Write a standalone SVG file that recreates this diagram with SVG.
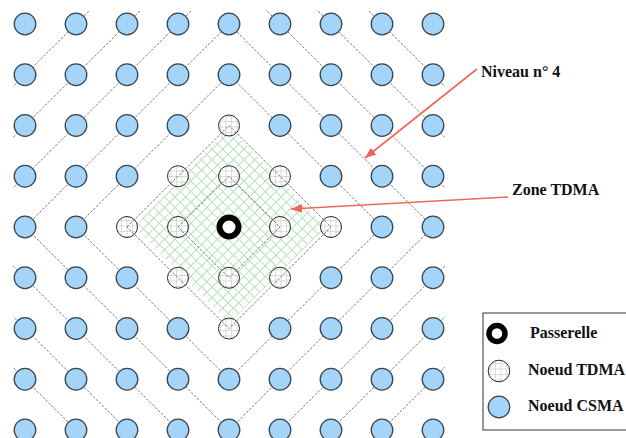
<svg xmlns="http://www.w3.org/2000/svg" width="626" height="438" viewBox="0 0 626 438">
<style>
.csma{fill:#a4d5f8;stroke:#3a4650;stroke-width:1.3}
.tdma{fill:url(#grid);stroke:#2a2a2a;stroke-width:1}
.gw{fill:#fff;stroke:#000;stroke-width:6}
.gwl{fill:none;stroke:#000;stroke-width:5.5}
.lvl{fill:none;stroke:#555;stroke-width:0.8;stroke-dasharray:2.5 1.6}
.arrow{stroke:#f0665a;stroke-width:1.6;fill:none}
text{font-family:"Liberation Serif","Times New Roman",serif;font-weight:bold;font-size:16px;fill:#111}
</style>
<defs>
<pattern id="grid" width="5.5" height="5.5" patternUnits="userSpaceOnUse">
<rect width="5.5" height="5.5" fill="#fff"/>
<path d="M0 0.5H5.5M0.5 0V5.5" stroke="#d2d2d2" stroke-width="0.8"/>
</pattern>
<pattern id="hatch" width="7.5" height="7.5" patternUnits="userSpaceOnUse" patternTransform="rotate(45)">
<path d="M0 0.5H7.5M0.5 0V7.5" stroke="#b4e0bb" stroke-width="1"/>
</pattern>
<marker id="ah" markerUnits="userSpaceOnUse" markerWidth="12" markerHeight="10" refX="11" refY="4.5" orient="auto">
<path d="M0 0L11 4.5L0 9Z" fill="#f0665a"/>
</marker>
<clipPath id="gridclip"><rect x="13" y="10" width="432" height="440"/></clipPath>
</defs>
<rect width="626" height="438" fill="#fff"/>
<g id="zone-tdma">
<polygon points="134,227 229,128 326,227 229,323" fill="url(#hatch)"/>
</g>
<g id="tdma-nodes">
<g id="n4-2"><circle class="tdma" cx="229" cy="125.5" r="10.5"/></g>
<g id="n3-3"><circle class="tdma" cx="178" cy="176.25" r="10.5"/></g>
<g id="n4-3"><circle class="tdma" cx="229" cy="176.25" r="10.5"/></g>
<g id="n5-3"><circle class="tdma" cx="280" cy="176.25" r="10.5"/></g>
<g id="n2-4"><circle class="tdma" cx="127" cy="227" r="10.5"/></g>
<g id="n3-4"><circle class="tdma" cx="178" cy="227" r="10.5"/></g>
<g id="n5-4"><circle class="tdma" cx="280" cy="227" r="10.5"/></g>
<g id="n6-4"><circle class="tdma" cx="331" cy="227" r="10.5"/></g>
<g id="n3-5"><circle class="tdma" cx="178" cy="277.75" r="10.5"/></g>
<g id="n4-5"><circle class="tdma" cx="229" cy="277.75" r="10.5"/></g>
<g id="n5-5"><circle class="tdma" cx="280" cy="277.75" r="10.5"/></g>
<g id="n4-6"><circle class="tdma" cx="229" cy="328.5" r="10.5"/></g>
</g>
<g id="connectors" clip-path="url(#gridclip)">
<polygon class="lvl" points="178,227 229,176.25 280,227 229,277.75"/>
<polygon class="lvl" points="127,227 229,125.5 331,227 229,328.5"/>
<polygon class="lvl" points="76,227 229,74.75 382,227 229,379.25"/>
<polygon class="lvl" points="25,227 229,24 433,227 229,430"/>
<polygon class="lvl" points="-26,227 229,-26.75 484,227 229,480.75"/>
<polygon class="lvl" points="-77,227 229,-77.5 535,227 229,531.5"/>
<polygon class="lvl" points="-128,227 229,-128.25 586,227 229,582.25"/>
</g>
<g id="csma-nodes">
<g id="n0-0"><circle class="csma" cx="25" cy="24" r="10.8"/></g>
<g id="n1-0"><circle class="csma" cx="76" cy="24" r="10.8"/></g>
<g id="n2-0"><circle class="csma" cx="127" cy="24" r="10.8"/></g>
<g id="n3-0"><circle class="csma" cx="178" cy="24" r="10.8"/></g>
<g id="n4-0"><circle class="csma" cx="229" cy="24" r="10.8"/></g>
<g id="n5-0"><circle class="csma" cx="280" cy="24" r="10.8"/></g>
<g id="n6-0"><circle class="csma" cx="331" cy="24" r="10.8"/></g>
<g id="n7-0"><circle class="csma" cx="382" cy="24" r="10.8"/></g>
<g id="n8-0"><circle class="csma" cx="433" cy="24" r="10.8"/></g>
<g id="n0-1"><circle class="csma" cx="25" cy="74.75" r="10.8"/></g>
<g id="n1-1"><circle class="csma" cx="76" cy="74.75" r="10.8"/></g>
<g id="n2-1"><circle class="csma" cx="127" cy="74.75" r="10.8"/></g>
<g id="n3-1"><circle class="csma" cx="178" cy="74.75" r="10.8"/></g>
<g id="n4-1"><circle class="csma" cx="229" cy="74.75" r="10.8"/></g>
<g id="n5-1"><circle class="csma" cx="280" cy="74.75" r="10.8"/></g>
<g id="n6-1"><circle class="csma" cx="331" cy="74.75" r="10.8"/></g>
<g id="n7-1"><circle class="csma" cx="382" cy="74.75" r="10.8"/></g>
<g id="n8-1"><circle class="csma" cx="433" cy="74.75" r="10.8"/></g>
<g id="n0-2"><circle class="csma" cx="25" cy="125.5" r="10.8"/></g>
<g id="n1-2"><circle class="csma" cx="76" cy="125.5" r="10.8"/></g>
<g id="n2-2"><circle class="csma" cx="127" cy="125.5" r="10.8"/></g>
<g id="n3-2"><circle class="csma" cx="178" cy="125.5" r="10.8"/></g>
<g id="n5-2"><circle class="csma" cx="280" cy="125.5" r="10.8"/></g>
<g id="n6-2"><circle class="csma" cx="331" cy="125.5" r="10.8"/></g>
<g id="n7-2"><circle class="csma" cx="382" cy="125.5" r="10.8"/></g>
<g id="n8-2"><circle class="csma" cx="433" cy="125.5" r="10.8"/></g>
<g id="n0-3"><circle class="csma" cx="25" cy="176.25" r="10.8"/></g>
<g id="n1-3"><circle class="csma" cx="76" cy="176.25" r="10.8"/></g>
<g id="n2-3"><circle class="csma" cx="127" cy="176.25" r="10.8"/></g>
<g id="n6-3"><circle class="csma" cx="331" cy="176.25" r="10.8"/></g>
<g id="n7-3"><circle class="csma" cx="382" cy="176.25" r="10.8"/></g>
<g id="n8-3"><circle class="csma" cx="433" cy="176.25" r="10.8"/></g>
<g id="n0-4"><circle class="csma" cx="25" cy="227" r="10.8"/></g>
<g id="n1-4"><circle class="csma" cx="76" cy="227" r="10.8"/></g>
<g id="n7-4"><circle class="csma" cx="382" cy="227" r="10.8"/></g>
<g id="n8-4"><circle class="csma" cx="433" cy="227" r="10.8"/></g>
<g id="n0-5"><circle class="csma" cx="25" cy="277.75" r="10.8"/></g>
<g id="n1-5"><circle class="csma" cx="76" cy="277.75" r="10.8"/></g>
<g id="n2-5"><circle class="csma" cx="127" cy="277.75" r="10.8"/></g>
<g id="n6-5"><circle class="csma" cx="331" cy="277.75" r="10.8"/></g>
<g id="n7-5"><circle class="csma" cx="382" cy="277.75" r="10.8"/></g>
<g id="n8-5"><circle class="csma" cx="433" cy="277.75" r="10.8"/></g>
<g id="n0-6"><circle class="csma" cx="25" cy="328.5" r="10.8"/></g>
<g id="n1-6"><circle class="csma" cx="76" cy="328.5" r="10.8"/></g>
<g id="n2-6"><circle class="csma" cx="127" cy="328.5" r="10.8"/></g>
<g id="n3-6"><circle class="csma" cx="178" cy="328.5" r="10.8"/></g>
<g id="n5-6"><circle class="csma" cx="280" cy="328.5" r="10.8"/></g>
<g id="n6-6"><circle class="csma" cx="331" cy="328.5" r="10.8"/></g>
<g id="n7-6"><circle class="csma" cx="382" cy="328.5" r="10.8"/></g>
<g id="n8-6"><circle class="csma" cx="433" cy="328.5" r="10.8"/></g>
<g id="n0-7"><circle class="csma" cx="25" cy="379.25" r="10.8"/></g>
<g id="n1-7"><circle class="csma" cx="76" cy="379.25" r="10.8"/></g>
<g id="n2-7"><circle class="csma" cx="127" cy="379.25" r="10.8"/></g>
<g id="n3-7"><circle class="csma" cx="178" cy="379.25" r="10.8"/></g>
<g id="n4-7"><circle class="csma" cx="229" cy="379.25" r="10.8"/></g>
<g id="n5-7"><circle class="csma" cx="280" cy="379.25" r="10.8"/></g>
<g id="n6-7"><circle class="csma" cx="331" cy="379.25" r="10.8"/></g>
<g id="n7-7"><circle class="csma" cx="382" cy="379.25" r="10.8"/></g>
<g id="n8-7"><circle class="csma" cx="433" cy="379.25" r="10.8"/></g>
<g id="n0-8"><circle class="csma" cx="25" cy="430" r="10.8"/></g>
<g id="n1-8"><circle class="csma" cx="76" cy="430" r="10.8"/></g>
<g id="n2-8"><circle class="csma" cx="127" cy="430" r="10.8"/></g>
<g id="n3-8"><circle class="csma" cx="178" cy="430" r="10.8"/></g>
<g id="n4-8"><circle class="csma" cx="229" cy="430" r="10.8"/></g>
<g id="n5-8"><circle class="csma" cx="280" cy="430" r="10.8"/></g>
<g id="n6-8"><circle class="csma" cx="331" cy="430" r="10.8"/></g>
<g id="n7-8"><circle class="csma" cx="382" cy="430" r="10.8"/></g>
<g id="n8-8"><circle class="csma" cx="433" cy="430" r="10.8"/></g>
</g>
<g id="gateway"><circle class="gw" cx="229" cy="227" r="9.5"/></g>
<g id="label-niveau">
<line class="arrow" x1="477" y1="69" x2="365" y2="158" marker-end="url(#ah)"/>
<text x="481" y="77">Niveau n° 4</text>
</g>
<g id="label-zone">
<line class="arrow" x1="508" y1="197" x2="291" y2="209" marker-end="url(#ah)"/>
<text x="512" y="195">Zone TDMA</text>
</g>
<g id="legend">
<rect x="483" y="313" width="150" height="117" fill="#fff" stroke="#333" stroke-width="1"/>
<circle class="gwl" cx="497" cy="333.5" r="8"/>
<text x="530" y="337.5">Passerelle</text>
<circle class="tdma" cx="499" cy="371" r="10.8"/>
<text x="528" y="375">Noeud TDMA</text>
<circle class="csma" cx="499" cy="407" r="10.8"/>
<text x="528" y="411">Noeud CSMA</text>
</g>
</svg>
